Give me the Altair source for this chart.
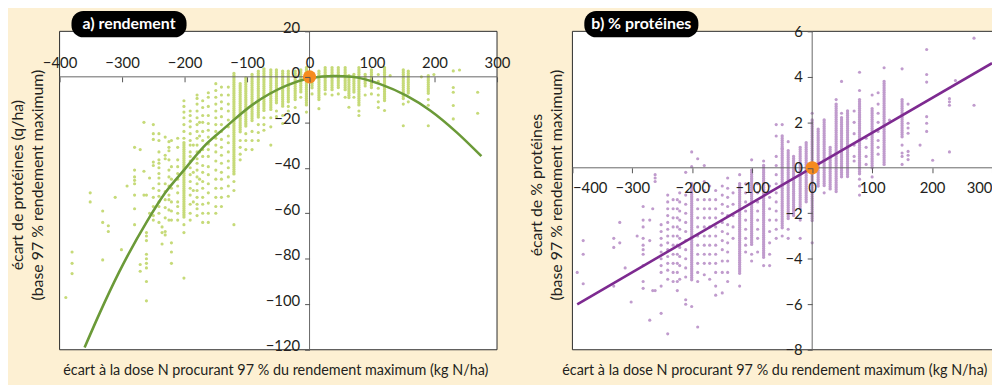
import altair as alt
import pandas as pd

# ---------------- panel a : rendement ----------------
A_DOT_X = [-390, -380, -351, -331, -322, -311, -301, -292, -280, -271,
           -265, -261, -256, -250, -241, -236, -231, -225, -221, -211,
           -201, -191, -186, -180, -176, -171, -162, -150, -141, -130,
           -121, -111, -102, -92, -82, -73, -62, -53, -43, -34,
           -23, -14, -5, 4, 15, 25, 36, 46, 57, 63,
           71, 79, 89, 99, 110, 120, 129, 150, 158, 179,
           190, 199, 230, 240, 269]
A_DOT_Y = [
    [-97], [-77, -82, -86.5], [-51, -55], [-59, -64, -80.5], [-65.5, -68],
    [-53], [-76], [-48], [-31, -41, -44, -45.5, -47, -52, -58, -65], [-32, -82.5, -85.5],
    [-20, -41.5, -52], [-52, -68.5, -70, -72, -78, -80, -82, -84, -90, -98.5], [-44.5, -60],
    [-21, -25, -27.5, -37.5, -39, -49, -53, -57, -61, -63],
    [-25, -28, -33, -36.5, -38, -40, -42.5, -44.5, -47, -50, -52.5, -55, -57, -60, -64],
    [-66, -68.5, -73.5],
    [-26.5, -34.5, -36, -47, -50.5, -54, -57.5, -62, -68, -69.5],
    [-28.5, -31, -32.5, -36.5, -41, -44, -48, -52, -54, -58.5, -63],
    [-28, -39.5, -45, -49, -55, -59, -63, -73, -77, -82],
    [-27, -31, -36.5, -39.5, -42.5, -45, -48, -51, -55, -57, -60, -63],
    [-10.5, -13, -15.5, -18, -21, -24, -27, -65, -68.5, -88.5],
    [-15, -17, -19.5, -22, -25, -28, -30, -33, -35, -37, -40, -43, -46, -49, -52, -56, -60, -63],
    [-30, -36, -42, -50, -55],
    [-8, -9.5, -12, -15, -18, -21, -24, -27, -30, -33, -36, -38, -41, -44, -47, -50, -53, -56, -58, -61],
    [-20, -26, -33, -45],
    [-10.5, -13.5, -17, -20, -24, -28, -32, -35, -39, -42, -46, -49, -53, -56, -60, -64],
    [-7, -9, -13, -17, -20.5, -23.5, -26.5, -29.5, -32, -35, -39.5, -43, -47, -51, -55.5, -60, -64],
    [-3, -6, -9, -12, -15, -18, -21, -24, -27, -30, -33, -37, -41, -45, -49, -53, -57, -60],
    [-4.5, -8, -11, -14, -17.5, -21, -24, -27.5, -31, -34.5, -38, -42, -45, -49, -53, -57],
    [-4.5, -8, -12, -15, -19, -22, -26, -29, -33, -37, -40, -44, -48, -52.5],
    [-46, -50, -65],
    [-28, -31, -34, -36.5],
    [-25, -28, -32],
    [-24, -28, -32],
    [-21, -24.5, -28],
    [-18, -21, -23.5],
    [-18, -22, -30],
    [-15, -17.5],
    [-17, -20.5],
    [-13, -15],
    [-13.5],
    [-9],
    [-15.5],
    [-7.5],
    [-14],
    [-7.5],
    [-8],
    [-7.5],
    [-9],
    [-13.4],
    [-9],
    [-15, -17],
    [-4, -8],
    [-7.5],
    [1, -2, -5, -8, -11, -13.5],
    [-14.8],
    [0.5],
    [-12, -21.5],
    [-11],
    [0],
    [-10, -12.5, -21.5],
    [1],
    [2.6, -4.7, -6.8, -12.6, -18.5],
    [3],
    [-6.8, -16],
]
# dense columns of overlapping dots (top / bottom of each run)
A_SEG_X = [-201, -121, -111, -102, -92, -82, -73, -62, -53, -43, -34, -23, -14, -5, 4,
           15, 25, 36, 46, 57, 63, 71, 79, 89, 99, 120, 150, 158, 190]
A_SEG_TOP = [-29, 1.5, -3, -0.5, 1, 2.5, 3.5, 3, 3, 2.5, 2.5, 2.5, 3, 4, 1,
             2.5, 4, 4, 4, 4, 0.5, 1, 4, 1, 3, 4, 3, 2.5, 0.5]
A_SEG_BOT = [-62, -43, -25, -22, -20, -18, -15, -15, -12, -13, -11, -10, -7, -13, -5,
             -10, -6, -6, -5, -6, -10, -7, -13, -3, -5, -11, -10, -8, -8]
A_FIT_X = [-360, -336, -305, -261, -231, -201, -165, -138, -90, -38, 0, 40, 68, 113, 155, 193, 235, 275]
A_FIT_Y = [-119, -104, -86, -64, -51, -41, -29.5, -23, -12, -4, -0.6, 0.4, 0, -3.2, -8.3, -14.8, -24.3, -34.9]
A_X_TICKS = [-400, -300, -200, -100, 0, 100, 200, 300]
A_Y_TICKS = [-120, -100, -80, -60, -40, -20, 0, 20]

# ---------------- panel b : % protéines ----------------
B_DOT_X = [-392, -382, -331, -321, -312, -302, -292, -282, -271, -266,
           -262, -252, -241, -232, -225, -221, -211, -201, -191, -180,
           -171, -161, -150, -141, -132, -121, -111, -101, -91, -81,
           -71, -60, -50, -40, -20, 0, 20, 40, 49, 70,
           79, 90, 100, 110, 120, 129, 150, 160, 180, 191,
           201, 229, 239, 270]
B_DOT_Y = [
    [-4.6], [-3.2, -3.8, -5.1], [-3.1, -3.5, -5.2], [-2.4, -3.3], [-4.4],
    [-5.9], [-3.0], [-1.7, -2.3, -2.6, -3.1, -3.4, -3.6, -3.8, -4.3, -5.0, -5.3],
    [-2.3, -3.2, -6.7], [-1.8, -5.4],
    [-0.3, -0.45, -0.6, -5.4],
    [-2.5, -2.8, -3.1, -3.4, -3.7, -4.0, -4.3, -4.6, -5.2, -6.4],
    [-1.2, -1.5, -1.8, -2.1, -2.4, -2.7, -3.0, -3.3, -3.6, -3.9, -4.2, -4.5, -4.9, -7.3],
    [-1.4, -1.8, -2.2, -2.6, -3.0, -3.4, -3.8, -4.2, -4.6, -5.0],
    [-1.4, -1.8, -2.2, -2.6, -3.0, -3.4, -3.8, -4.2, -4.6, -5.0, -5.4],
    [-1.1, -1.5, -1.9, -2.3, -2.7, -3.1, -3.5, -3.9, -4.3, -4.9],
    [-0.2, -1.2, -1.6, -2.0, -2.4, -2.8, -3.2, -3.6, -4.0, -4.4, -4.8, -5.8, -6.0],
    [0.7, 0.05, -6.1],
    [0.4, -1.4, -1.8, -2.2, -2.6, -3.0, -3.4, -3.8, -4.2, -4.6, -5.0, -7.0],
    [0.1, -0.6, -1.0, -1.4, -1.8, -2.2, -2.6, -3.0, -3.4, -3.8, -4.2, -4.7],
    [-0.8, -1.4, -1.8, -2.2, -2.6, -3.0, -3.4, -3.8, -4.2, -4.9],
    [-1.0, -1.4, -1.8, -2.2, -2.6, -3.0, -3.4, -3.8, -4.2, -4.6, -5.2, -5.6],
    [-0.8, -1.2, -1.6, -2.0, -2.4, -2.8, -3.2, -3.6, -4.1, -4.6, -5.5],
    [-0.45, -0.9, -1.3, -1.7, -2.1, -2.5, -2.9, -3.3, -3.7, -4.1, -4.6, -5.0],
    [-1.1, -1.6, -2.1, -2.6, -3.1],
    [-0.3, -5.2],
    [-0.7, -1.1, -1.5, -1.9, -2.3, -2.7, -3.1, -3.4, -3.7],
    [0.35, -3.8, -4.1],
    [-0.7, -1.1, -1.5, -1.9, -2.3, -2.7, -3.1, -3.7],
    [0.3, -4.3],
    [-0.8, -1.3, -1.8, -2.3, -2.8, -3.3, -3.8, -4.3],
    [1.9, 1.4, 0.5, 0.1, -0.3, -0.7, -1.1, -1.5, -1.9, -2.3, -2.7, -3.1],
    [1.9, 0.85, -3.0],
    [1.15, -2.7, -3.1],
    [-2.3, -3.1],
    [2.4, -3.3],
    [-1.1],
    [3.0],
    [2.4, 3.8],
    [2.5, 2.0, 1.5, 1.0, 0.5, 0.3],
    [4.2, 3.4, -0.5, -0.8, -1.2],
    [1.3, 0.9, 0.5, 0.15],
    [3.2, -0.4],
    [3.3, 2.8, 2.4, 2.0, 1.6, 1.2, 0.9, 0.6],
    [4.4],
    [2.1],
    [4.35, 1.0, 0.65, 0.5, 0.15],
    [2.8, 1.96, 1.75, 1.52, 0.72, 0.55, 0.36],
    [1.0],
    [5.2, 4.1, 3.77, 2.25, 1.96, 1.6],
    [0.33],
    [3.04, 2.9, 2.75, 0.7],
    [3.84],
    [5.7, 2.75],
]
B_SEG_X = [-201, -121, -101, -81, -50, -40, -31, -20, -10, 0, 10, 20, 30, 40, 49, 59, 79, 100, 120, 150]
B_SEG_TOP = [-0.7, -0.7, -0.1, 0.1, 1.4, 0.75, 0.5, 0.9, 1.1, 2.1, 1.7, 2.1, 0.9, 2.8, 2.2, 2.5, 3.0, 2.6, 3.8, 3.0]
B_SEG_BOT = [-5.0, -4.7, -3.4, -4.0, -2.7, -2.3, -2.1, -1.8, -1.5, -2.4, -0.8, -0.8, -1.0, -1.1, -0.4, -0.4, -0.3, 0.0, 0.1, 1.3]
B_FIT_X = [-392, 300]
B_FIT_Y = [-6.0, 4.6]
B_X_TICKS = [-400, -300, -200, -100, 0, 100, 200, 300]
B_Y_TICKS = [-8, -6, -4, -2, 0, 2, 4, 6]

TITLE_A = "a) rendement"
TITLE_B = "b) % protéines"
YTITLE_A = ["écart de protéines (q/ha)", "(base 97 % rendement maximum)"]
YTITLE_B = ["écart de % protéines", "(base 97 % rendement maximum)"]
XTITLE = "écart à la dose N procurant 97 % du rendement maximum (kg N/ha)"

assert len(A_DOT_X) == len(A_DOT_Y) and len(B_DOT_X) == len(B_DOT_Y)

# ---------------- styles ----------------
W, H = 992, 377
FONT = "Lato"
TXT = "#231f20"
BEIGE = "#FDF0D3"
FRAME = "#2b2b2b"
AXIS = "#666666"
GREEN_PT, GREEN_LN = "#C6DA78", "#6B9A38"
PURP_PT, PURP_LN = "#C09BCD", "#7D2A90"
ORANGE = "#F68B1F"


def dots_df(xs, ys):
    return pd.DataFrame([{"x": x, "y": y} for x, col in zip(xs, ys) for y in col])


def zero_px(dom, rng):
    return rng[0] + (0 - dom[0]) / (dom[1] - dom[0]) * (rng[1] - rng[0])


def make_panel(dx, dy, sx_, st, sb, fx, fy, xdom, ydom, xr, yr, xticks, yticks,
               labels_above, flush, ylab_off, pt_c, ln_c, interp, frame_right):
    sx = alt.Scale(domain=xdom, range=xr, nice=False, zero=False)
    sy = alt.Scale(domain=ydom, range=yr, nice=False, zero=False)
    x0 = zero_px(xdom, xr)
    y0 = zero_px(ydom, yr)
    common = dict(domain=False, grid=False, tickSize=5, tickColor="#555555", tickWidth=1,
                  labelFont=FONT, labelFontSize=15, labelColor=TXT, labelOverlap=False, zindex=1)
    if labels_above:
        ax = alt.Axis(orient="bottom", offset=y0 - H, values=xticks, labelFlush=flush,
                      labelPadding=-14, labelBaseline="alphabetic", **common)
    else:
        ax = alt.Axis(orient="bottom", offset=y0 - H, values=xticks, labelFlush=flush,
                      labelPadding=8, **common)
    ay = alt.Axis(orient="left", offset=-x0, values=yticks, labelPadding=5,
                  labelOffset=ylab_off, **common)
    X = alt.X("x:Q", scale=sx, axis=ax, title=None)
    Y = alt.Y("y:Q", scale=sy, axis=ay, title=None)

    frame = pd.DataFrame({"x": [xdom[0]], "x2": [frame_right], "y": [ydom[0]], "y2": [ydom[1]]})
    hline = pd.DataFrame({"x": [xdom[0]], "x2": [frame_right], "y": [0]})
    vline = pd.DataFrame({"x": [0], "y": [ydom[0]], "y2": [ydom[1]]})
    segs = pd.DataFrame({"x": sx_, "y": st, "y2": sb})
    fit = pd.DataFrame({"x": fx, "y": fy})
    origin = pd.DataFrame({"x": [0], "y": [0]})

    bg = alt.Chart(frame).mark_rect(fill="white", stroke=FRAME, strokeWidth=1).encode(
        x=X, x2="x2:Q", y=Y, y2="y2:Q")
    hl = alt.Chart(hline).mark_rule(color=AXIS, strokeWidth=1).encode(x=X, x2="x2:Q", y=Y)
    vl = alt.Chart(vline).mark_rule(color=AXIS, strokeWidth=1).encode(x=X, y=Y, y2="y2:Q")
    # a dense run of dots: round-capped near-zero dashes give a chain of dots
    sg = alt.Chart(segs).mark_rule(color=pt_c, strokeWidth=3.4, strokeCap="round",
                                   strokeDash=[0.1, 2.1]).encode(x=X, y=Y, y2="y2:Q")
    pts = alt.Chart(dots_df(dx, dy)).mark_circle(color=pt_c, size=10, opacity=1).encode(x=X, y=Y)
    ln = alt.Chart(fit).mark_line(color=ln_c, strokeWidth=2.6, interpolate=interp).encode(x=X, y=Y)
    org = alt.Chart(origin).mark_circle(color=ORANGE, size=180, opacity=1).encode(x=X, y=Y)
    return alt.layer(bg, sg, pts, hl, vl, ln, org)


panel_a = make_panel(A_DOT_X, A_DOT_Y, A_SEG_X, A_SEG_TOP, A_SEG_BOT, A_FIT_X, A_FIT_Y,
                     [-400, 300], [-120, 20], [52, 493], [343, 22], A_X_TICKS, A_Y_TICKS,
                     True, False, -4, GREEN_PT, GREEN_LN, "monotone", 300)
panel_b = make_panel(B_DOT_X, B_DOT_Y, B_SEG_X, B_SEG_TOP, B_SEG_BOT, B_FIT_X, B_FIT_Y,
                     [-400, 300], [-8, 6], [569, 992], [343, 22], B_X_TICKS, B_Y_TICKS,
                     False, True, 0, PURP_PT, PURP_LN, "linear", 310)

one = alt.Data(values=[{"k": 0}])


def label(s, x, y, size, angle=0, weight="normal", color=TXT):
    return alt.Chart(one).mark_text(text=s, font=FONT, fontSize=size, fontWeight=weight,
                                    color=color, align="center", baseline="middle",
                                    angle=angle).encode(x=alt.value(x), y=alt.value(y))


def box(x1, x2, y1, y2):
    return alt.Chart(one).mark_rect(color="black", cornerRadius=12).encode(
        x=alt.value(x1), x2=alt.value(x2), y=alt.value(y1), y2=alt.value(y2))


decor = [
    box(64, 180, 1.5, 28), label(TITLE_A, 122, 15, 16, weight="bold", color="white"),
    box(581, 696, 1.5, 28), label(TITLE_B, 638.5, 15, 16, weight="bold", color="white"),
    label(YTITLE_A[0], 10.5, 177, 16, angle=270), label(YTITLE_A[1], 30, 177, 16, angle=270),
    label(YTITLE_B[0], 533, 177, 16, angle=270), label(YTITLE_B[1], 554, 177, 16, angle=270),
    label(XTITLE, 270, 364, 14.5), label(XTITLE, 773, 364, 14.5),
]

chart = alt.layer(panel_a, panel_b, *decor).resolve_scale(
    x="independent", y="independent"
).properties(
    width=W, height=H, background=BEIGE, padding=0,
    autosize=alt.AutoSizeParams(type="none"),
).configure_view(strokeWidth=0)

chart.save("out.html", embed_options={"renderer": "svg", "actions": False})
